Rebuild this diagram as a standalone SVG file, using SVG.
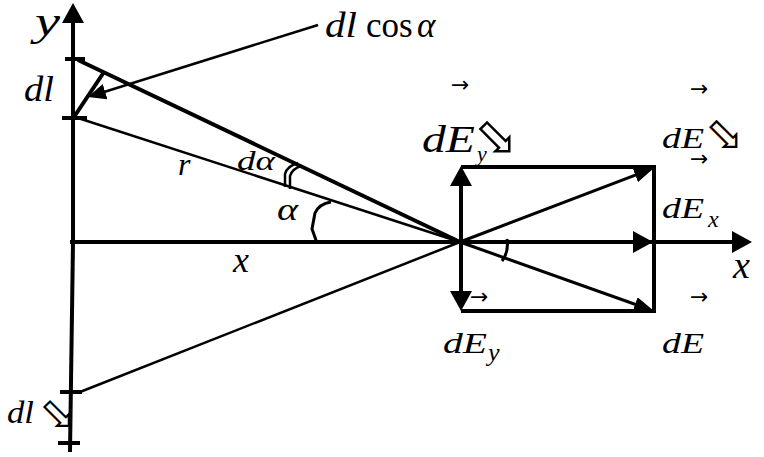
<svg xmlns="http://www.w3.org/2000/svg" width="764" height="457" viewBox="0 0 764 457">
  <style>
    .th { stroke: #000; stroke-width: 4; fill: none; }
    .md { stroke: #000; stroke-width: 3; fill: none; }
    .tn { stroke: #000; stroke-width: 2.5; fill: none; }
    text { font-family: "Liberation Serif", "Times New Roman", serif; fill: #000; }
    .i { font-style: italic; }
    .sym { font-family: "DejaVu Sans", sans-serif; }
    .vec { font-family: "DejaVu Sans", sans-serif; font-size: 22px; }
  </style>
  <defs>
    <marker id="big" viewBox="0 0 20 22" refX="14" refY="11" markerWidth="20" markerHeight="22" orient="auto" markerUnits="userSpaceOnUse">
      <path d="M0,0 L20,11 L0,22 z" fill="#000"/>
    </marker>
    <marker id="mid" viewBox="0 0 20 15" refX="14" refY="7.5" markerWidth="20" markerHeight="15" orient="auto" markerUnits="userSpaceOnUse">
      <path d="M0,0 L20,7.5 L0,15 z" fill="#000"/>
    </marker>
    <marker id="sm" viewBox="0 0 18 16" refX="12" refY="8" markerWidth="18" markerHeight="16" orient="auto" markerUnits="userSpaceOnUse">
      <path d="M0,0 L18,8 L0,16 z" fill="#000"/>
    </marker>
  </defs>
  <rect width="764" height="457" fill="#fff"/>

  <g id="axes">
    <line class="th" x1="73" y1="242" x2="73" y2="9" marker-end="url(#big)"/>
    <line class="th" x1="73" y1="242" x2="70" y2="452"/>
    <line class="th" x1="70" y1="242" x2="746" y2="242" marker-end="url(#big)"/>
    <line class="th" x1="65" y1="59" x2="85" y2="59"/>
    <line class="th" x1="62" y1="118" x2="87" y2="118"/>
    <line class="th" x1="60" y1="392" x2="82" y2="392"/>
    <line class="th" x1="58" y1="443" x2="80" y2="443"/>
  </g>

  <g id="connectors">
    <line class="th" x1="78" y1="60" x2="460" y2="242"/>
    <line class="tn" x1="78" y1="118" x2="460" y2="242"/>
    <line class="tn" x1="80" y1="392" x2="460" y2="242"/>
    <line class="th" x1="104" y1="72" x2="74" y2="117"/>
    <line class="tn" x1="318" y1="25" x2="93.7" y2="95.2" marker-end="url(#sm)"/>
    <path class="md" d="M317,243 L312,229 L315,213 Q319,204 331,202"/>
    <path class="tn" d="M285,187 L285,174 Q287,166 298,163"/>
    <path class="tn" d="M290,189 L290,176 Q292,169 301,166"/>
    <path class="md" d="M507,239 Q509,252 502,261"/>
    <line class="th" x1="461" y1="242" x2="461" y2="172" marker-end="url(#big)"/>
    <line class="th" x1="461" y1="242" x2="461" y2="305" marker-end="url(#big)"/>
    <line class="th" x1="461" y1="167" x2="655" y2="167"/>
    <line class="th" x1="654" y1="165" x2="654" y2="313"/>
    <line class="th" x1="461" y1="311" x2="654" y2="311"/>
    <line class="th" x1="460" y1="242" x2="647" y2="242" marker-end="url(#big)"/>
    <line class="md" x1="460" y1="242" x2="648.4" y2="170.1" marker-end="url(#mid)"/>
    <line class="md" x1="460" y1="242" x2="648.3" y2="309" marker-end="url(#mid)"/>
  </g>

  <g id="labels">
    <text class="i" x="35" y="35" font-size="40" textLength="25" lengthAdjust="spacingAndGlyphs">y</text>
    <text class="i" x="24" y="101" font-size="35" textLength="30" lengthAdjust="spacingAndGlyphs">dl</text>
    <text x="325" y="37" font-size="35"><tspan class="i" textLength="32" lengthAdjust="spacingAndGlyphs">dl</tspan><tspan x="366">cos</tspan><tspan class="i" x="417">α</tspan></text>
    <text class="i" x="178" y="175" font-size="32">r</text>
    <text class="i" x="237" y="170" font-size="28" textLength="38" lengthAdjust="spacingAndGlyphs">dα</text>
    <text class="i" x="277" y="220" font-size="32" textLength="21" lengthAdjust="spacingAndGlyphs">α</text>
    <text class="i" x="233" y="272" font-size="36">x</text>
    <text class="i" x="733" y="278" font-size="38">x</text>

    <text class="vec" x="451" y="92">→</text>
    <text class="i" x="422" y="152" font-size="38" textLength="53" lengthAdjust="spacingAndGlyphs">dE</text>
    <text class="i" x="477" y="161" font-size="22">y</text>
    <text class="sym" x="474" y="154" font-size="52">⬂</text>

    <text class="vec" x="690" y="96">→</text>
    <text class="i" x="662" y="148" font-size="30" textLength="42" lengthAdjust="spacingAndGlyphs">dE</text>
    <text class="sym" x="705" y="149" font-size="46">⬂</text>

    <text class="vec" x="690" y="166">→</text>
    <text class="i" x="662" y="218" font-size="30" textLength="42" lengthAdjust="spacingAndGlyphs">dE</text>
    <text class="i" x="708" y="227" font-size="24">x</text>

    <text class="vec" x="470" y="304">→</text>
    <text class="i" x="443" y="353" font-size="30" textLength="44" lengthAdjust="spacingAndGlyphs">dE</text>
    <text class="i" x="488" y="361" font-size="26">y</text>

    <text class="vec" x="690" y="304">→</text>
    <text class="i" x="662" y="353" font-size="30" textLength="42" lengthAdjust="spacingAndGlyphs">dE</text>

    <text class="i" x="7" y="423" font-size="32" textLength="27" lengthAdjust="spacingAndGlyphs">dl</text>
    <text class="sym" x="39" y="428" font-size="44">⬂</text>
  </g>
</svg>
